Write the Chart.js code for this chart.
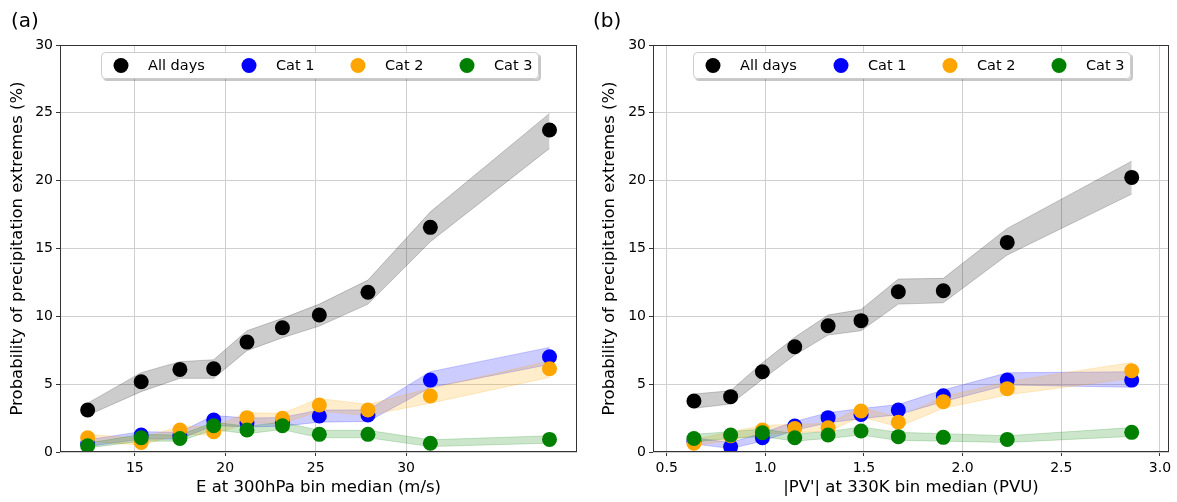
<!DOCTYPE html>
<html><head><meta charset="utf-8">
<script src="https://cdn.jsdelivr.net/npm/chart.js@4"></script>
<style>
html,body{margin:0;padding:0;background:#fff;width:1177px;height:502px;overflow:hidden}
#ca{position:absolute;left:0;top:0}
#cb{position:absolute;left:592px;top:0}
</style></head><body>
<canvas id="ca" width="592" height="502"></canvas>
<canvas id="cb" width="585" height="502"></canvas>
<script>
// ---------- data ----------
const seriesNames = ['All days', 'Cat 1', 'Cat 2', 'Cat 3'];
const yTicks = [0, 5, 10, 15, 20, 25, 30];

// Panel (a): E at 300hPa bin median (m/s)
const aXTicks = [15, 20, 25, 30];
const aX      = [12.39, 15.35, 17.49, 19.36, 21.2, 23.16, 25.2, 27.89, 31.34, 37.93];
const aAll    = [3.1, 5.18, 6.09, 6.14, 8.1, 9.16, 10.1, 11.77, 16.56, 23.73];
const aAllHi  = [3.6, 5.85, 6.66, 6.8, 8.94, 9.85, 10.9, 12.67, 17.7, 24.96];
const aAllLo  = [2.7, 4.45, 5.43, 5.43, 7.47, 8.42, 9.28, 10.9, 15.5, 22.38];
const aCat1   = [0.6, 1.25, 1.2, 2.36, 2.16, 2.2, 2.65, 2.73, 5.3, 7.02];
const aCat1Hi = [0.9, 1.5, 1.45, 2.7, 2.5, 2.55, 3.1, 3.1, 5.92, 7.71];
const aCat1Lo = [0.4, 0.95, 0.95, 1.95, 1.85, 1.9, 2.2, 2.25, 4.75, 6.45];
const aCat2   = [1.05, 0.7, 1.62, 1.5, 2.53, 2.48, 3.46, 3.1, 4.13, 6.14];
const aCat2Hi = [1.3, 1.0, 1.9, 1.85, 2.9, 2.85, 3.95, 3.5, 4.7, 6.7];
const aCat2Lo = [0.8, 0.5, 1.3, 1.25, 2.15, 2.1, 3.0, 2.7, 3.6, 5.5];
const aCat3   = [0.46, 1.05, 1.0, 1.94, 1.62, 1.94, 1.3, 1.3, 0.64, 0.93];
const aCat3Hi = [0.65, 1.3, 1.25, 2.2, 1.9, 2.2, 1.6, 1.6, 0.9, 1.2];
const aCat3Lo = [0.3, 0.8, 0.8, 1.65, 1.35, 1.65, 1.05, 1.05, 0.4, 0.65];

// Panel (b): |PV'| at 330K bin median (PVU)
const bXTicks = [0.5, 1.0, 1.5, 2.0, 2.5, 3.0];
const bX      = [0.638, 0.824, 0.985, 1.149, 1.318, 1.485, 1.674, 1.902, 2.226, 2.857];
const bAll    = [3.76, 4.08, 5.92, 7.76, 9.31, 9.68, 11.81, 11.89, 15.45, 20.24];
const bAllHi  = [4.27, 4.52, 6.58, 8.45, 10.1, 10.5, 12.75, 12.8, 16.48, 21.44];
const bAllLo  = [3.22, 3.54, 5.35, 7.15, 8.62, 8.94, 10.9, 11.0, 14.52, 19.01];
const bCat1   = [0.8, 0.39, 1.05, 1.92, 2.53, 2.77, 3.1, 4.15, 5.3, 5.3];
const bCat1Hi = [1.05, 0.7, 1.4, 2.25, 2.9, 3.2, 3.5, 4.57, 5.84, 5.92];
const bCat1Lo = [0.6, 0.25, 0.8, 1.6, 2.15, 2.45, 2.75, 3.71, 4.94, 4.77];
const bCat2   = [0.64, 1.2, 1.62, 1.74, 1.79, 3.02, 2.19, 3.71, 4.67, 5.99];
const bCat2Hi = [0.9, 1.5, 1.95, 2.05, 2.1, 3.3, 2.55, 4.08, 5.18, 6.6];
const bCat2Lo = [0.45, 0.9, 1.3, 1.45, 1.5, 2.6, 1.85, 3.22, 4.2, 5.43];
const bCat3   = [1.0, 1.25, 1.42, 1.05, 1.25, 1.55, 1.13, 1.08, 0.93, 1.45];
const bCat3Hi = [1.3, 1.5, 1.7, 1.35, 1.5, 1.85, 1.45, 1.35, 1.2, 1.8];
const bCat3Lo = [0.75, 1.0, 1.15, 0.8, 1.0, 1.25, 0.85, 0.8, 0.7, 1.15];

// ---------- styling ----------
const FONT = 'DejaVu Sans';
const colors = ['#000000', '#0000ff', '#ffa500', '#008000'];
const bandColors = ['rgba(0,0,0,0.2)', 'rgba(0,0,255,0.2)', 'rgba(255,165,0,0.2)', 'rgba(0,128,0,0.2)'];

function pts(x, ys) { return x.map((v, i) => ({ x: v, y: ys[i] })); }

function buildDatasets(x, series) {
  const ds = [];
  series.forEach((s, k) => {
    ds.push({ type: 'line', data: pts(x, s.hi), borderColor: bandColors[k], borderWidth: 1,
      backgroundColor: bandColors[k], fill: '+1', pointRadius: 0, tension: 0, order: 14 - k });
    ds.push({ type: 'line', data: pts(x, s.lo), borderColor: bandColors[k], borderWidth: 1,
      backgroundColor: bandColors[k], fill: false, pointRadius: 0, tension: 0, order: 14 - k });
  });
  series.forEach((s, k) => {
    ds.push({ type: 'scatter', label: seriesNames[k], data: pts(x, s.mid), backgroundColor: colors[k],
      borderWidth: 0, pointRadius: 7.5, showLine: false, order: 4 - k });
  });
  return ds;
}

function makePlugins(panelLabel, labelX) {
  return [{
    id: 'decor',
    afterDraw(chart) {
      const ctx = chart.ctx, a = chart.chartArea;
      ctx.save();
      // frame
      ctx.strokeStyle = '#333';
      ctx.lineWidth = 1;
      ctx.strokeRect(Math.round(a.left) + 0.5, Math.round(a.top) + 0.5,
        Math.round(a.right - a.left) - 1, Math.round(a.bottom - a.top) - 1);
      // legend
      const boxW = 438, boxH = 27;
      const bx = Math.round((a.left + a.right) / 2 - boxW / 2) + 1;
      const by = Math.round(a.top) + 7;
      const r = 4;
      function rr(x, y, w, h) {
        ctx.beginPath();
        ctx.moveTo(x + r, y); ctx.lineTo(x + w - r, y); ctx.quadraticCurveTo(x + w, y, x + w, y + r);
        ctx.lineTo(x + w, y + h - r); ctx.quadraticCurveTo(x + w, y + h, x + w - r, y + h);
        ctx.lineTo(x + r, y + h); ctx.quadraticCurveTo(x, y + h, x, y + h - r);
        ctx.lineTo(x, y + r); ctx.quadraticCurveTo(x, y, x + r, y); ctx.closePath();
      }
      ctx.fillStyle = 'rgba(0,0,0,0.22)';
      rr(bx + 2, by + 2, boxW, boxH); ctx.fill();
      ctx.fillStyle = '#ffffff';
      rr(bx, by, boxW, boxH); ctx.fill();
      ctx.strokeStyle = '#cccccc';
      rr(bx + 0.5, by + 0.5, boxW - 1, boxH - 1); ctx.stroke();
      const offs = [20, 148, 257, 366];
      ctx.font = '14.5px "' + FONT + '"';
      ctx.textBaseline = 'middle';
      ctx.textAlign = 'left';
      seriesNames.forEach((n, k) => {
        ctx.fillStyle = colors[k];
        ctx.beginPath();
        ctx.arc(bx + offs[k], by + boxH / 2, 7.5, 0, Math.PI * 2);
        ctx.fill();
        ctx.fillStyle = '#000';
        ctx.fillText(n, bx + offs[k] + 27, by + boxH / 2 + 0.5);
      });
      // panel label
      ctx.font = '20px "' + FONT + '"';
      ctx.textBaseline = 'alphabetic';
      ctx.fillStyle = '#000';
      ctx.fillText(panelLabel, labelX, 27);
      ctx.restore();
    }
  }];
}

function makeChart(id, x, series, xMin, xMax, xTicks, fmt, xTitle, yWidth, padRight, panelLabel, labelX) {
  return new Chart(document.getElementById(id), {
    type: 'scatter',
    data: { datasets: buildDatasets(x, series) },
    options: {
      responsive: false, animation: false, events: [],
      layout: { padding: { left: 0, top: 45, right: padRight, bottom: 0 } },
      plugins: { legend: { display: false }, tooltip: { enabled: false } },
      scales: {
        x: {
          type: 'linear', min: xMin, max: xMax,
          afterBuildTicks: s => { s.ticks = xTicks.map(v => ({ value: v })); },
          afterFit: s => { s.height = 50; },
          ticks: { font: { family: FONT, size: 14 }, color: '#000', padding: 3.5, maxRotation: 0, autoSkip: false,
            callback: v => fmt(v) },
          grid: { color: '#d0d0d0', lineWidth: 1, tickLength: 4, tickColor: '#333', drawTicks: true },
          border: { display: false },
          title: { display: true, text: xTitle, font: { family: FONT, size: 16.5 }, color: '#000',
            padding: { top: 0, bottom: 4 } }
        },
        y: {
          type: 'linear', min: 0, max: 30,
          afterBuildTicks: s => { s.ticks = yTicks.map(v => ({ value: v })); },
          afterFit: s => { s.width = yWidth; },
          ticks: { font: { family: FONT, size: 14 }, color: '#000', padding: 3, callback: v => String(v) },
          grid: { color: '#d0d0d0', lineWidth: 1, tickLength: 4, tickColor: '#333', drawTicks: true },
          border: { display: false },
          title: { display: true, text: 'Probability of precipitation extremes (%)',
            font: { family: FONT, size: 16.5 }, color: '#000', padding: { top: 8, bottom: 0 } }
        }
      }
    },
    plugins: makePlugins(panelLabel, labelX)
  });
}

const seriesA = [
  { mid: aAll, lo: aAllLo, hi: aAllHi },
  { mid: aCat1, lo: aCat1Lo, hi: aCat1Hi },
  { mid: aCat2, lo: aCat2Lo, hi: aCat2Hi },
  { mid: aCat3, lo: aCat3Lo, hi: aCat3Hi }
];
const seriesB = [
  { mid: bAll, lo: bAllLo, hi: bAllHi },
  { mid: bCat1, lo: bCat1Lo, hi: bCat1Hi },
  { mid: bCat2, lo: bCat2Lo, hi: bCat2Hi },
  { mid: bCat3, lo: bCat3Lo, hi: bCat3Hi }
];

makeChart('ca', aX, seriesA, 10.86, 39.45, aXTicks, v => String(v),
  'E at 300hPa bin median (m/s)', 60, 15, '(a)', 11);
makeChart('cb', bX, seriesB, 0.4305, 3.046, bXTicks, v => v.toFixed(1),
  "|PV'| at 330K bin median (PVU)", 61, 8, '(b)', 1);
</script>
</body></html>
